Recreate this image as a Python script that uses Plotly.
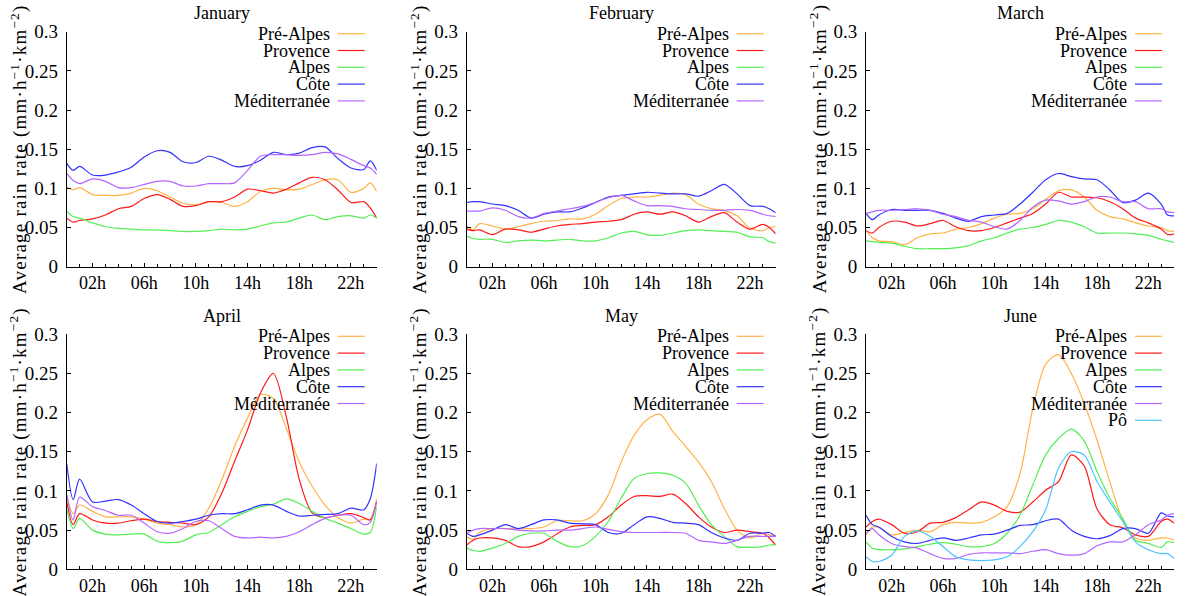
import plotly.graph_objects as go

# ---------------- data ----------------
HOURS = [0, 0.5, 1, 2, 3, 4, 5, 6, 7, 8, 9, 10, 11, 12, 13, 14, 15, 16, 17,
         18, 19, 20, 21, 22, 23, 23.5, 24]
TICK_HOURS = [2, 6, 10, 14, 18, 22]
TICK_LABELS = ["02h", "06h", "10h", "14h", "18h", "22h"]
MONTHS = ["January", "February", "March", "April", "May", "June"]
REGIONS = ["Pré-Alpes", "Provence", "Alpes", "Côte", "Méditerranée", "Pô"]

jan_pre_alpes = [0.102, 0.098, 0.101, 0.092, 0.091, 0.091, 0.094, 0.100, 0.097, 0.089, 0.081, 0.079, 0.083, 0.082, 0.077, 0.083, 0.096, 0.100, 0.098, 0.099, 0.105, 0.111, 0.111, 0.095, 0.100, 0.107, 0.096]
jan_provence = [0.062, 0.057, 0.059, 0.061, 0.066, 0.074, 0.077, 0.087, 0.092, 0.086, 0.077, 0.078, 0.083, 0.083, 0.089, 0.099, 0.097, 0.094, 0.099, 0.107, 0.114, 0.111, 0.098, 0.082, 0.083, 0.075, 0.062]
jan_alpes = [0.071, 0.064, 0.062, 0.056, 0.051, 0.049, 0.048, 0.047, 0.047, 0.046, 0.045, 0.045, 0.046, 0.048, 0.047, 0.048, 0.052, 0.056, 0.057, 0.062, 0.066, 0.060, 0.064, 0.065, 0.062, 0.066, 0.062]
jan_cote = [0.132, 0.123, 0.128, 0.117, 0.117, 0.121, 0.127, 0.140, 0.148, 0.146, 0.134, 0.133, 0.141, 0.136, 0.128, 0.129, 0.136, 0.146, 0.143, 0.145, 0.152, 0.153, 0.138, 0.126, 0.124, 0.135, 0.123]
jan_mediterranee = [0.119, 0.110, 0.106, 0.112, 0.109, 0.101, 0.101, 0.105, 0.109, 0.109, 0.103, 0.103, 0.106, 0.106, 0.107, 0.123, 0.141, 0.143, 0.143, 0.142, 0.143, 0.146, 0.144, 0.137, 0.129, 0.126, 0.118]

feb_pre_alpes = [0.052, 0.047, 0.055, 0.052, 0.048, 0.051, 0.055, 0.058, 0.059, 0.061, 0.061, 0.067, 0.078, 0.087, 0.089, 0.089, 0.091, 0.094, 0.092, 0.080, 0.074, 0.072, 0.065, 0.049, 0.046, 0.050, 0.051]
feb_provence = [0.048, 0.046, 0.047, 0.041, 0.048, 0.047, 0.044, 0.048, 0.052, 0.054, 0.055, 0.057, 0.058, 0.060, 0.067, 0.070, 0.067, 0.070, 0.065, 0.057, 0.064, 0.069, 0.057, 0.048, 0.054, 0.050, 0.042]
feb_alpes = [0.039, 0.036, 0.035, 0.035, 0.031, 0.033, 0.034, 0.033, 0.034, 0.035, 0.033, 0.033, 0.037, 0.043, 0.045, 0.041, 0.040, 0.043, 0.046, 0.047, 0.046, 0.045, 0.044, 0.038, 0.037, 0.032, 0.030]
feb_cote = [0.082, 0.083, 0.083, 0.080, 0.078, 0.072, 0.062, 0.067, 0.070, 0.070, 0.075, 0.082, 0.089, 0.091, 0.093, 0.095, 0.094, 0.093, 0.093, 0.090, 0.097, 0.105, 0.093, 0.078, 0.077, 0.074, 0.069]
feb_mediterranee = [0.071, 0.071, 0.071, 0.075, 0.072, 0.064, 0.062, 0.068, 0.071, 0.074, 0.077, 0.082, 0.088, 0.091, 0.084, 0.078, 0.078, 0.077, 0.074, 0.073, 0.072, 0.072, 0.073, 0.072, 0.067, 0.065, 0.064]

mar_pre_alpes = [0.046, 0.037, 0.033, 0.032, 0.028, 0.037, 0.042, 0.043, 0.048, 0.050, 0.055, 0.062, 0.067, 0.068, 0.074, 0.086, 0.097, 0.098, 0.089, 0.072, 0.064, 0.061, 0.056, 0.052, 0.050, 0.046, 0.045]
mar_provence = [0.046, 0.043, 0.050, 0.058, 0.057, 0.052, 0.055, 0.059, 0.051, 0.046, 0.046, 0.050, 0.056, 0.062, 0.068, 0.080, 0.095, 0.089, 0.089, 0.088, 0.083, 0.074, 0.062, 0.056, 0.048, 0.041, 0.042]
mar_alpes = [0.033, 0.032, 0.031, 0.030, 0.026, 0.023, 0.023, 0.023, 0.024, 0.027, 0.033, 0.037, 0.043, 0.048, 0.050, 0.054, 0.059, 0.057, 0.051, 0.043, 0.043, 0.043, 0.042, 0.040, 0.035, 0.033, 0.031]
mar_cote = [0.068, 0.060, 0.066, 0.073, 0.072, 0.072, 0.072, 0.068, 0.062, 0.058, 0.064, 0.066, 0.068, 0.080, 0.095, 0.111, 0.119, 0.115, 0.112, 0.111, 0.098, 0.082, 0.085, 0.094, 0.080, 0.066, 0.065]
mar_mediterranee = [0.068, 0.070, 0.072, 0.072, 0.073, 0.074, 0.072, 0.067, 0.064, 0.059, 0.057, 0.051, 0.048, 0.059, 0.076, 0.085, 0.084, 0.080, 0.083, 0.089, 0.089, 0.083, 0.083, 0.074, 0.074, 0.070, 0.069]

apr_pre_alpes = [0.095, 0.071, 0.082, 0.074, 0.067, 0.067, 0.067, 0.064, 0.059, 0.057, 0.054, 0.057, 0.078, 0.114, 0.157, 0.193, 0.223, 0.218, 0.180, 0.137, 0.106, 0.082, 0.066, 0.059, 0.064, 0.064, 0.090]
apr_provence = [0.086, 0.057, 0.071, 0.063, 0.059, 0.059, 0.062, 0.064, 0.061, 0.060, 0.059, 0.057, 0.067, 0.097, 0.138, 0.178, 0.225, 0.250, 0.195, 0.115, 0.072, 0.066, 0.069, 0.071, 0.066, 0.063, 0.086]
apr_alpes = [0.078, 0.052, 0.065, 0.050, 0.045, 0.044, 0.045, 0.045, 0.036, 0.034, 0.036, 0.044, 0.047, 0.057, 0.067, 0.074, 0.080, 0.083, 0.090, 0.084, 0.074, 0.065, 0.059, 0.052, 0.045, 0.047, 0.080]
apr_cote = [0.135, 0.089, 0.115, 0.086, 0.087, 0.089, 0.082, 0.071, 0.061, 0.059, 0.061, 0.064, 0.069, 0.071, 0.071, 0.076, 0.082, 0.082, 0.074, 0.068, 0.069, 0.070, 0.071, 0.078, 0.076, 0.090, 0.135]
apr_mediterranee = [0.095, 0.063, 0.092, 0.080, 0.075, 0.069, 0.069, 0.059, 0.048, 0.046, 0.052, 0.061, 0.062, 0.052, 0.042, 0.040, 0.041, 0.040, 0.042, 0.048, 0.057, 0.065, 0.069, 0.069, 0.057, 0.060, 0.088]

may_pre_alpes = [0.042, 0.038, 0.047, 0.052, 0.052, 0.052, 0.052, 0.054, 0.062, 0.062, 0.062, 0.071, 0.095, 0.137, 0.171, 0.191, 0.198, 0.176, 0.157, 0.137, 0.112, 0.078, 0.050, 0.040, 0.046, 0.044, 0.042]
may_provence = [0.031, 0.037, 0.040, 0.040, 0.037, 0.029, 0.029, 0.035, 0.045, 0.054, 0.056, 0.057, 0.067, 0.082, 0.093, 0.094, 0.093, 0.096, 0.084, 0.067, 0.054, 0.047, 0.050, 0.048, 0.046, 0.040, 0.031]
may_alpes = [0.027, 0.024, 0.023, 0.027, 0.033, 0.042, 0.046, 0.046, 0.036, 0.029, 0.030, 0.042, 0.061, 0.091, 0.116, 0.122, 0.123, 0.120, 0.110, 0.082, 0.057, 0.042, 0.029, 0.028, 0.029, 0.031, 0.031]
may_cote = [0.046, 0.042, 0.044, 0.050, 0.057, 0.052, 0.057, 0.063, 0.063, 0.059, 0.058, 0.057, 0.047, 0.046, 0.057, 0.067, 0.065, 0.060, 0.059, 0.057, 0.047, 0.040, 0.037, 0.046, 0.046, 0.047, 0.042]
may_mediterranee = [0.046, 0.050, 0.052, 0.052, 0.052, 0.050, 0.049, 0.049, 0.050, 0.050, 0.052, 0.054, 0.051, 0.048, 0.047, 0.047, 0.047, 0.047, 0.046, 0.037, 0.035, 0.033, 0.037, 0.042, 0.042, 0.042, 0.042]

jun_pre_alpes = [0.044, 0.054, 0.053, 0.044, 0.047, 0.050, 0.048, 0.057, 0.060, 0.059, 0.060, 0.067, 0.080, 0.122, 0.205, 0.262, 0.274, 0.250, 0.212, 0.165, 0.112, 0.063, 0.040, 0.037, 0.040, 0.040, 0.037]
jun_provence = [0.054, 0.061, 0.064, 0.057, 0.046, 0.048, 0.059, 0.060, 0.066, 0.076, 0.086, 0.082, 0.074, 0.073, 0.086, 0.101, 0.112, 0.146, 0.132, 0.077, 0.057, 0.053, 0.044, 0.042, 0.061, 0.064, 0.059]
jun_alpes = [0.035, 0.027, 0.025, 0.025, 0.026, 0.029, 0.032, 0.034, 0.032, 0.029, 0.029, 0.033, 0.046, 0.069, 0.108, 0.146, 0.167, 0.179, 0.164, 0.125, 0.091, 0.065, 0.037, 0.033, 0.028, 0.035, 0.034]
jun_cote = [0.069, 0.057, 0.054, 0.042, 0.035, 0.033, 0.037, 0.040, 0.037, 0.040, 0.044, 0.045, 0.050, 0.056, 0.057, 0.062, 0.064, 0.050, 0.042, 0.039, 0.043, 0.052, 0.052, 0.046, 0.072, 0.068, 0.067]
jun_mediterranee = [0.046, 0.052, 0.044, 0.033, 0.029, 0.027, 0.020, 0.014, 0.014, 0.019, 0.021, 0.021, 0.021, 0.020, 0.023, 0.025, 0.020, 0.018, 0.020, 0.030, 0.035, 0.035, 0.044, 0.057, 0.063, 0.069, 0.071]
jun_po = [0.016, 0.010, 0.010, 0.018, 0.042, 0.049, 0.042, 0.029, 0.016, 0.012, 0.011, 0.012, 0.016, 0.029, 0.048, 0.076, 0.129, 0.150, 0.146, 0.112, 0.086, 0.061, 0.035, 0.025, 0.020, 0.020, 0.014]

PANELS = [
    [jan_pre_alpes, jan_provence, jan_alpes, jan_cote, jan_mediterranee],
    [feb_pre_alpes, feb_provence, feb_alpes, feb_cote, feb_mediterranee],
    [mar_pre_alpes, mar_provence, mar_alpes, mar_cote, mar_mediterranee],
    [apr_pre_alpes, apr_provence, apr_alpes, apr_cote, apr_mediterranee],
    [may_pre_alpes, may_provence, may_alpes, may_cote, may_mediterranee],
    [jun_pre_alpes, jun_provence, jun_alpes, jun_cote, jun_mediterranee, jun_po],
]

COLORS = ["#ffb347", "#ff1a1a", "#55ee55", "#3333ff", "#b366ff", "#4dc3ff"]

# ---------------- layout geometry (pixels) ----------------
W, H = 1192, 596
COLS = [(66.7, 376.7), (466.7, 775.7), (866.0, 1174.0)]
ROWS = [(31.7, 266.7), (334.3, 569.3)]
FONT = "Liberation Serif, Times New Roman, serif"
FS = 18

fig = go.Figure()
annotations = []
shapes = []

for i, (month, series) in enumerate(zip(MONTHS, PANELS)):
    r, c = divmod(i, 3)
    x0, x1 = COLS[c]
    yt, yb = ROWS[r]
    sfx = "" if i == 0 else str(i + 1)
    xa, ya = "x" + sfx, "y" + sfx
    for k, vals in enumerate(series):
        fig.add_trace(go.Scatter(
            x=HOURS, y=vals, mode="lines", name=REGIONS[k], showlegend=False,
            line=dict(color=COLORS[k], width=1.2, shape="spline", smoothing=0.8),
            xaxis=xa, yaxis=ya, hoverinfo="skip"))
    fig.layout["xaxis" + sfx] = dict(
        domain=[x0 / W, x1 / W], anchor=ya, range=[0, 24], automargin=False,
        tickmode="array", tickvals=TICK_HOURS, ticktext=TICK_LABELS,
        ticks="inside", ticklen=4, tickcolor="black", showgrid=False,
        showline=True, linecolor="black", linewidth=1, zeroline=False,
        minor=dict(ticks="inside", ticklen=3, tick0=0, dtick=1, tickcolor="black", showgrid=False),
        tickfont=dict(family=FONT, size=FS, color="black"))
    fig.layout["yaxis" + sfx] = dict(
        domain=[1 - yb / H, 1 - yt / H], anchor=xa, range=[0, 0.3], automargin=False,
        tickmode="linear", tick0=0, dtick=0.05,
        ticks="inside", ticklen=4, tickcolor="black", showgrid=False,
        showline=True, linecolor="black", linewidth=1, zeroline=False,
        ticklabelstandoff=4,
        tickfont=dict(family=FONT, size=FS + 1, color="black"))

    # panel title
    annotations.append(dict(
        text=month, x=(x0 + x1) / 2 / W, y=1 - (yt - 18.5) / H,
        xref="paper", yref="paper", xanchor="center", yanchor="middle",
        showarrow=False, font=dict(family=FONT, size=FS, color="black")))
    # y-axis title
    annotations.append(dict(
        text=('<span style="letter-spacing:1.2px">Average rain rate '
              '(mm·h<sup>−1</sup>·km<sup>−2</sup>)</span>'),
        x=(x0 - 48) / W, y=1 - (yt + yb) / 2 / H, textangle=-90,
        xref="paper", yref="paper", xanchor="center", yanchor="middle",
        showarrow=False, font=dict(family=FONT, size=FS + 1, color="black")))
    # legend (text left of sample line)
    for k in range(len(series)):
        ty = yt + 2 + 16.8 * k
        annotations.append(dict(
            text=REGIONS[k], x=(x1 - 45) / W, y=1 - ty / H,
            xref="paper", yref="paper", xanchor="right", yanchor="middle",
            showarrow=False, font=dict(family=FONT, size=FS, color="black")))
        shapes.append(dict(
            type="line", xref="paper", yref="paper",
            x0=(x1 - 39) / W, x1=(x1 - 12) / W, y0=1 - ty / H, y1=1 - ty / H,
            line=dict(color=COLORS[k], width=1.2)))

fig.update_layout(
    width=W, height=H, margin=dict(l=0, r=0, t=0, b=0, autoexpand=False),
    paper_bgcolor="white", plot_bgcolor="white",
    font=dict(family=FONT, color="black"),
    annotations=annotations, shapes=shapes, showlegend=False)

fig.write_html("out.html", config={"displayModeBar": False},
               post_script="document.body.style.margin='0px';")
